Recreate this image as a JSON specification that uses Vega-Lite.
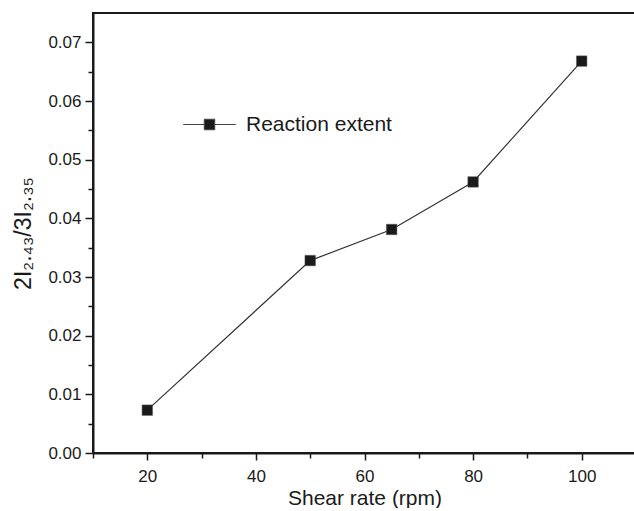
{
  "$schema": "https://vega.github.io/schema/vega-lite/v6.json",
  "width": 543,
  "height": 440,
  "padding": {"left": 12, "top": 13, "right": 0, "bottom": 0},
  "background": "white",
  "config": {
    "font": "Liberation Sans",
    "view": {"stroke": "#1a1a1a", "strokeWidth": 2},
    "axis": {
      "domainColor": "#1a1a1a",
      "domainWidth": 2,
      "tickColor": "#1a1a1a",
      "tickWidth": 1.5,
      "labelColor": "#1a1a1a",
      "titleColor": "#1a1a1a",
      "labelFont": "Liberation Sans",
      "titleFont": "Liberation Sans",
      "labelFontSize": 17,
      "titleFontSize": 21,
      "titleFontWeight": "normal",
      "grid": false
    }
  },
  "data": {
    "values": [
      {"rate": 20, "ratio": 0.0073, "series": "Reaction extent"},
      {"rate": 50, "ratio": 0.0328, "series": "Reaction extent"},
      {"rate": 65, "ratio": 0.0381, "series": "Reaction extent"},
      {"rate": 80, "ratio": 0.0462, "series": "Reaction extent"},
      {"rate": 100, "ratio": 0.0668, "series": "Reaction extent"}
    ]
  },
  "encoding": {
    "x": {
      "field": "rate",
      "type": "quantitative",
      "scale": {"domain": [10, 110], "nice": false, "zero": false},
      "axis": {
        "title": "Shear rate (rpm)",
        "values": [10, 20, 30, 40, 50, 60, 70, 80, 90, 100, 110],
        "labelExpr": "datum.value % 20 == 0 ? datum.label : ''",
        "tickSize": {"condition": {"test": "datum.value % 20 == 0", "value": 7}, "value": 5},
        "labelPadding": 8,
        "titlePadding": 3,
        "labelFlush": false
      }
    },
    "y": {
      "field": "ratio",
      "type": "quantitative",
      "scale": {"domain": [0, 0.075], "nice": false},
      "axis": {
        "title": "2I₂.₄₃/3I₂.₃₅",
        "titleFontSize": 23,
        "values": [0, 0.005, 0.01, 0.015, 0.02, 0.025, 0.03, 0.035, 0.04, 0.045, 0.05, 0.055, 0.06, 0.065, 0.07],
        "format": ".2f",
        "labelExpr": "round(datum.value*1000) % 10 == 0 ? datum.label : ''",
        "tickSize": {"condition": {"test": "round(datum.value*1000) % 10 == 0", "value": 8}, "value": 5},
        "labelPadding": 4,
        "titlePadding": 12,
        "labelFlush": false
      }
    }
  },
  "layer": [
    {
      "mark": {"type": "line", "color": "#333333", "strokeWidth": 1.2},
      "encoding": {}
    },
    {
      "mark": {"type": "point", "shape": "square", "filled": true, "size": 110, "opacity": 1, "stroke": "#555555", "strokeWidth": 0.5},
      "encoding": {
        "color": {
          "field": "series",
          "type": "nominal",
          "scale": {"range": ["#1a1a1a"]},
          "legend": {
            "title": null,
            "orient": "none",
            "legendX": 106,
            "legendY": 101,
            "padding": 0,
            "symbolType": "M-5,0H-1 M1,0H5 M-1,-1H1V1H-1Z",
            "symbolSize": 110,
            "symbolStrokeColor": "#444444",
            "symbolStrokeWidth": 1,
            "symbolFillColor": "#1a1a1a",
            "labelFontSize": 21,
            "labelFont": "Liberation Sans",
            "labelColor": "#1a1a1a",
            "labelOffset": 26
          }
        }
      }
    }
  ]
}
